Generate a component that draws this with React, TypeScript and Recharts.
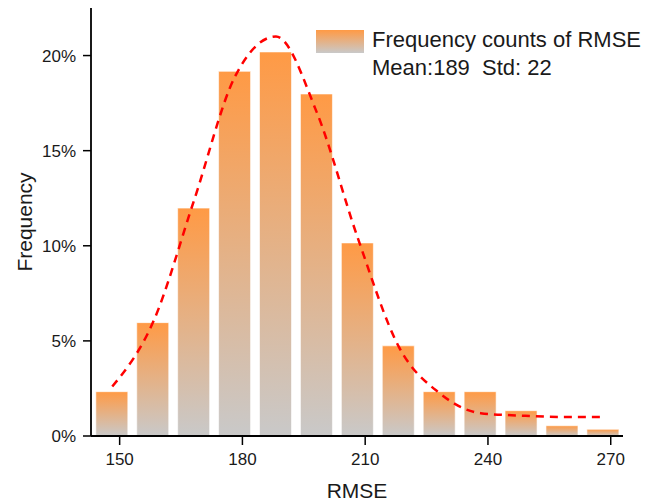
import { Bar, ComposedChart, Label, Line, XAxis, YAxis } from "recharts";

const binCenters = [148.2, 158.2, 168.2, 178.2, 188.2, 198.2, 208.2, 218.2, 228.2, 238.2, 248.2, 258.2, 268.2];
const frequency = [2.33, 5.96, 11.98, 19.17, 20.19, 17.98, 10.15, 4.74, 2.33, 2.33, 1.33, 0.54, 0.35];
const fitCurve = [2.6, 6.0, 12.4, 18.9, 21.0, 17.0, 10.4, 4.7, 2.25, 1.2, 1.07, 1.0, 1.0];

const xTicks = [150, 180, 210, 240, 270];
const yTicks = [0, 5, 10, 15, 20];

const legendTitle = "Frequency counts of RMSE";
const legendStats = "Mean:189  Std: 22";

const data = binCenters.map((rmse, i) => ({ rmse, freq: frequency[i], fit: fitCurve[i] }));

const font = '"Liberation Sans", Arial, sans-serif';
const ink = "#1a1a1a";
const colors = {
  barTop: "#ff9a45",
  barBottom: "#c9c9c9",
  fit: "#ff0000",
};

function YTitle({ viewBox }: { viewBox?: { x: number; y: number; width: number; height: number } }) {
  if (!viewBox) return null;
  const cx = viewBox.x + 24;
  const cy = viewBox.y + viewBox.height / 2;
  return (
    <text
      x={cx}
      y={cy}
      transform={`rotate(-90 ${cx} ${cy})`}
      textAnchor="middle"
      dominantBaseline="central"
      fontSize={21}
      fontFamily={font}
      fill={ink}
    >
      Frequency
    </text>
  );
}

export default function App() {
  return (
    <div style={{ position: "absolute", left: 0, top: 0, width: 659, height: 504, background: "#fff", fontFamily: font }}>
      <ComposedChart width={659} height={504} data={data} margin={{ top: 8, right: 36, left: 0, bottom: 0 }}>
        <defs>
          <linearGradient id="barGradient" x1="0" y1="0" x2="0" y2="1">
            <stop offset="0%" stopColor={colors.barTop} />
            <stop offset="100%" stopColor={colors.barBottom} />
          </linearGradient>
        </defs>
        <XAxis
          type="number"
          dataKey="rmse"
          domain={[143, 273]}
          ticks={xTicks}
          allowDataOverflow
          height={68}
          tickSize={9}
          tickMargin={8}
          stroke="#000"
          axisLine={{ stroke: "#000", strokeWidth: 1.8 }}
          tickLine={{ stroke: "#000", strokeWidth: 1.5 }}
          tick={{ fill: ink, fontSize: 17, fontFamily: font }}
        >
          <Label value="RMSE" position="insideBottom" offset={6} fontSize={21} fontFamily={font} fill={ink} />
        </XAxis>
        <YAxis
          type="number"
          domain={[0, 22.5]}
          ticks={yTicks}
          allowDataOverflow
          width={91}
          tickSize={8}
          tickMargin={7}
          stroke="#000"
          axisLine={{ stroke: "#000", strokeWidth: 1.8 }}
          tickLine={{ stroke: "#000", strokeWidth: 1.5 }}
          tick={{ fill: ink, fontSize: 17, fontFamily: font }}
          tickFormatter={(v) => `${v}%`}
        >
          <Label content={<YTitle />} />
        </YAxis>
        <Bar
          dataKey="freq"
          barSize={32}
          fill="url(#barGradient)"
          stroke="#ffffff"
          strokeOpacity={0.6}
          strokeWidth={1}
          isAnimationActive={false}
        />
        <Line
          type="monotone"
          dataKey="fit"
          stroke={colors.fit}
          strokeWidth={2.5}
          strokeDasharray="8 6"
          dot={false}
          activeDot={false}
          isAnimationActive={false}
        />
      </ComposedChart>
      <div style={{ position: "absolute", top: 26, left: 316, display: "flex", alignItems: "flex-start" }}>
        <div
          style={{
            marginTop: 4,
            width: 48,
            height: 23,
            background: `linear-gradient(to bottom, ${colors.barTop}, ${colors.barBottom})`,
          }}
        />
        <div style={{ marginLeft: 8, fontSize: 22, lineHeight: "28px", color: ink, whiteSpace: "pre" }}>
          <div>{legendTitle}</div>
          <div>{legendStats}</div>
        </div>
      </div>
    </div>
  );
}
